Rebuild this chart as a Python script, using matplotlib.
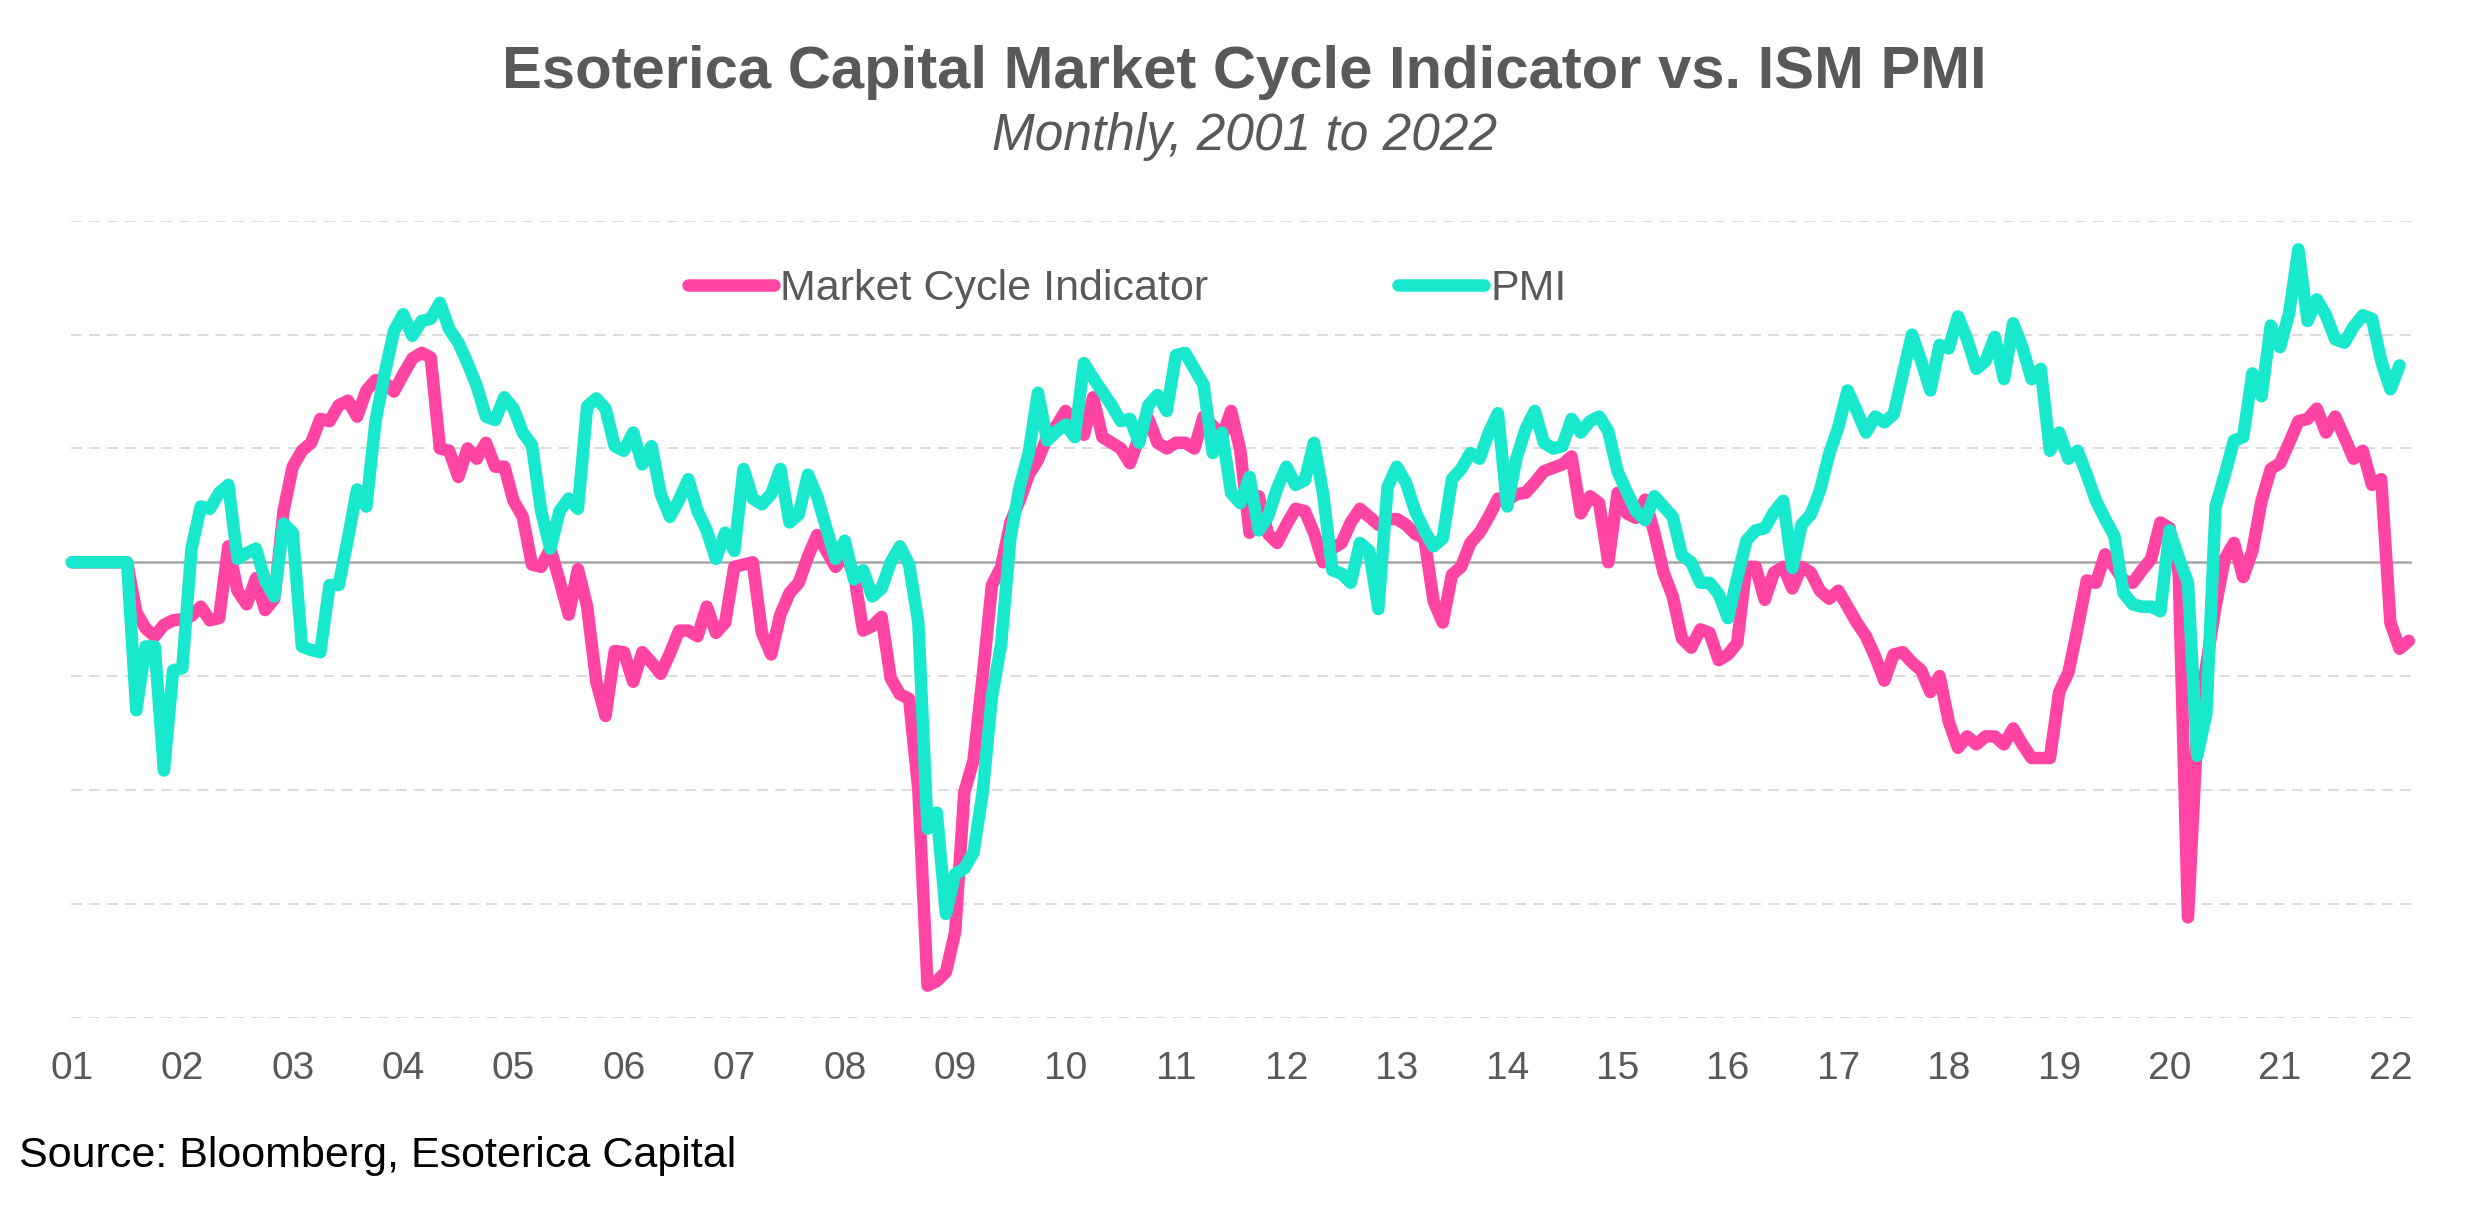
import numpy as np
import matplotlib
matplotlib.use("Agg")
from matplotlib import pyplot as plt

plt.rcParams['font.family'] = ['Liberation Sans', 'DejaVu Sans']

# monthly values, Jan 2001 onwards (axis units: one gridline step = 1)
mci = [
	0, 0, 0, 0, 0, 0, 0,
	-0.44, -0.58, -0.65, -0.55, -0.51, -0.50,
	-0.47, -0.39, -0.51, -0.49, 0.14, -0.25, -0.37, -0.14, -0.42, -0.32, 0.45, 0.84,
	0.98, 1.05, 1.26, 1.24, 1.38, 1.42, 1.28, 1.51, 1.60, 1.58, 1.50, 1.65,
	1.79, 1.84, 1.80, 1.00, 0.98, 0.75, 1.00, 0.91, 1.05, 0.84, 0.84, 0.54,
	0.40, -0.02, -0.04, 0.12, -0.16, -0.46, -0.06, -0.39, -1.05, -1.35, -0.78, -0.79,
	-1.05, -0.79, -0.88, -0.98, -0.80, -0.60, -0.60, -0.65, -0.39, -0.62, -0.53, -0.04,
	-0.02, 0.0, -0.62, -0.81, -0.46, -0.27, -0.18, 0.05, 0.24, 0.10, -0.04, 0.07,
	-0.10, -0.60, -0.56, -0.48, -1.02, -1.16, -1.20, -2.0, -3.72, -3.68, -3.60, -3.25,
	-2.02, -1.74, -1.0, -0.2, -0.04, 0.35, 0.54, 0.77, 0.90, 1.10, 1.20, 1.33,
	1.24, 1.12, 1.45, 1.10, 1.05, 1.0, 0.87, 1.10, 1.26, 1.05, 1.0, 1.05,
	1.05, 1.0, 1.28, 1.2, 1.1, 1.33, 0.98, 0.26, 0.58, 0.25, 0.17, 0.33,
	0.47, 0.45, 0.26, 0.0, 0.12, 0.17, 0.35, 0.47, 0.40, 0.33, 0.38, 0.38,
	0.33, 0.25, 0.21, -0.34, -0.53, -0.11, -0.04, 0.17, 0.26, 0.40, 0.56, 0.54,
	0.60, 0.61, 0.70, 0.80, 0.83, 0.86, 0.93, 0.43, 0.58, 0.52, 0.0, 0.61,
	0.43, 0.39, 0.55, 0.26, -0.09, -0.30, -0.67, -0.75, -0.59, -0.62, -0.86, -0.81,
	-0.71, -0.04, -0.04, -0.33, -0.09, -0.04, -0.23, -0.04, -0.09, -0.25, -0.32, -0.25,
	-0.39, -0.53, -0.65, -0.83, -1.04, -0.81, -0.79, -0.88, -0.95, -1.14, -1.0, -1.4,
	-1.63, -1.53, -1.6, -1.53, -1.53, -1.6, -1.46, -1.6, -1.72, -1.72, -1.72, -1.14,
	-0.97, -0.58, -0.16, -0.18, 0.07, -0.04, -0.16, -0.18, -0.07, 0.03, 0.35, 0.30,
	-0.10, -3.12, -1.5, -0.9, -0.39, 0.03, 0.17, -0.13, 0.10, 0.54, 0.82, 0.87,
	1.05, 1.24, 1.26, 1.35, 1.14, 1.28, 1.10, 0.91, 0.98, 0.68, 0.73, -0.53,
	-0.76, -0.69,
]

pmi = [
	0, 0, 0, 0, 0, 0, 0,
	-1.30, -0.74, -0.74, -1.83, -0.95, -0.93,
	0.12, 0.49, 0.47, 0.61, 0.68, 0.03, 0.08, 0.12, -0.16, -0.30, 0.34, 0.26,
	-0.74, -0.77, -0.79, -0.20, -0.20, 0.21, 0.64, 0.49, 1.24, 1.66, 2.03, 2.18,
	1.99, 2.12, 2.14, 2.28, 2.05, 1.93, 1.75, 1.55, 1.28, 1.25, 1.45, 1.35,
	1.14, 1.03, 0.45, 0.12, 0.45, 0.56, 0.47, 1.37, 1.44, 1.35, 1.02, 0.98,
	1.14, 0.86, 1.02, 0.60, 0.40, 0.55, 0.73, 0.45, 0.28, 0.03, 0.26, 0.10,
	0.82, 0.56, 0.51, 0.60, 0.82, 0.35, 0.42, 0.77, 0.58, 0.30, 0.03, 0.19,
	-0.15, -0.07, -0.30, -0.23, 0.0, 0.14, -0.02, -0.53, -2.34, -2.2, -3.09, -2.74,
	-2.69, -2.55, -2.02, -1.18, -0.72, 0.21, 0.66, 0.96, 1.49, 1.07, 1.15, 1.21,
	1.10, 1.75, 1.62, 1.50, 1.38, 1.24, 1.26, 1.05, 1.38, 1.47, 1.33, 1.82,
	1.84, 1.70, 1.56, 0.96, 1.14, 0.61, 0.52, 0.75, 0.28, 0.40, 0.65, 0.84,
	0.68, 0.72, 1.05, 0.60, -0.07, -0.10, -0.18, 0.17, 0.10, -0.41, 0.66, 0.84,
	0.70, 0.45, 0.28, 0.14, 0.21, 0.73, 0.82, 0.96, 0.91, 1.14, 1.31, 0.49,
	0.91, 1.17, 1.33, 1.05, 1.0, 1.02, 1.26, 1.14, 1.24, 1.28, 1.15, 0.80,
	0.62, 0.45, 0.37, 0.58, 0.49, 0.40, 0.06, 0.0, -0.18, -0.18, -0.28, -0.49,
	-0.14, 0.19, 0.28, 0.30, 0.44, 0.54, -0.05, 0.33, 0.42, 0.63, 0.95, 1.19,
	1.51, 1.33, 1.14, 1.28, 1.23, 1.30, 1.65, 2.0, 1.77, 1.51, 1.91, 1.88,
	2.16, 1.96, 1.70, 1.77, 1.98, 1.61, 2.10, 1.89, 1.61, 1.70, 0.98, 1.14,
	0.91, 0.98, 0.77, 0.54, 0.38, 0.23, -0.27, -0.37, -0.39, -0.39, -0.43, 0.28,
	0.04, -0.18, -1.70, -1.33, 0.49, 0.77, 1.07, 1.10, 1.66, 1.46, 2.08, 1.89,
	2.19, 2.75, 2.12, 2.31, 2.17, 1.96, 1.93, 2.07, 2.17, 2.14, 1.77, 1.52,
	1.73,
]

year_labels = ['%02d' % y for y in range(1, 23)]
grid_levels = list(range(-4, 4))

PINK = '#FF44A4'
TEAL = '#18E8CE'
GREY = '#595959'

fig = plt.figure(figsize=(24.75, 12.05), dpi=100)
ax = fig.add_axes([71/2475, 0.1556, (2412-71)/2475, 0.8167-0.1556])

for lv in grid_levels:
	if lv == 0:
		ax.axhline(lv, color='#a6a6a6', lw=1.8, zorder=1)
	else:
		ax.axhline(lv, color='#d9d9d9', lw=1.3, ls=(0, (6, 4)), zorder=1)

ax.plot(np.arange(len(mci)), mci, color=PINK, lw=9, label='Market Cycle Indicator',
	solid_capstyle='round', solid_joinstyle='round', zorder=3, clip_on=False)
ax.plot(np.arange(len(pmi)), pmi, color=TEAL, lw=9, label='PMI',
	solid_capstyle='round', solid_joinstyle='round', zorder=4, clip_on=False)

ax.set_xlim(-0.1, 254.35)
ax.set_ylim(-4, 3)
ax.set_yticks([])
ax.set_xticks(np.arange(0, 12*len(year_labels), 12))
ax.set_xticklabels(year_labels)
ax.tick_params(axis='x', length=0, pad=24, labelsize=28, labelcolor=GREY)
for s in ax.spines.values():
	s.set_visible(False)

ax.legend(loc='center', bbox_to_anchor=(0.4554, 0.760), bbox_transform=fig.transFigure,
	ncol=2, frameon=False, fontsize=31, handlelength=2.0, handletextpad=0.15,
	columnspacing=4.4, labelcolor=GREY)

fig.text(0.5026, 1-88/1205, 'Esoterica Capital Market Cycle Indicator vs. ISM PMI',
	ha='center', va='baseline', fontsize=43, fontweight='bold', color=GREY)
fig.text(0.503, 1-150/1205, 'Monthly, 2001 to 2022', ha='center', va='baseline',
	fontsize=37, style='italic', color=GREY)
fig.text(19/2475, 1-1167/1205, 'Source: Bloomberg, Esoterica Capital', ha='left',
	va='baseline', fontsize=31, color='black')

fig.savefig('out.png', dpi=100)
